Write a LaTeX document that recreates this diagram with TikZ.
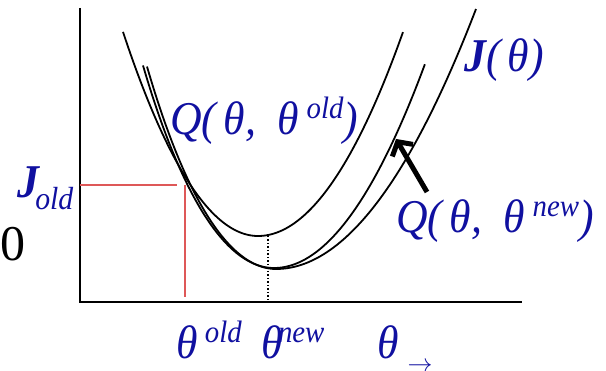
\documentclass[tikz,border=0pt]{standalone}
\usepackage{fontspec}
\setmainfont{Liberation Serif}
\usetikzlibrary{arrows.meta}
\definecolor{txtblue}{RGB}{16,16,160}
\definecolor{redln}{RGB}{222,88,88}
\newcommand{\supx}[1]{\raisebox{16pt}{\fontsize{31}{31}\selectfont #1}}
\newcommand{\subx}[1]{\raisebox{-12pt}{\fontsize{32}{32}\selectfont #1}}
\newcommand{\nrw}[1]{\scalebox{0.93}[1]{#1}}
\begin{document}
\begin{tikzpicture}[x=1pt,y=-1pt,
  lbl/.style={anchor=base west, inner sep=0pt, text=txtblue, font=\fontsize{47}{50}\selectfont\itshape},
  curve/.style={line width=1.8pt, draw=black},
  axisln/.style={line width=2.5pt, draw=black},
  guide/.style={line width=2pt, draw=redln},
  pointer/.style={line width=5pt, -{Straight Barb[length=10pt,width=24pt]}}]
\useasboundingbox (0,0) rectangle (606,371);
% axes
\coordinate (ytop) at (80,8);
\coordinate (orig) at (80,302);
\coordinate (xend) at (522,302);
\draw[axisln] (ytop) -- (orig) -- (xend);
% red guides
\coordinate (hl) at (80,185);
\coordinate (hr) at (177,185);
\coordinate (vt) at (185,185);
\coordinate (vb) at (185,297);
\draw[guide] (hl) -- (hr);
\draw[guide] (vt) -- (vb);
% dotted
\coordinate (dtop) at (268,236);
\coordinate (dbot) at (268,302);
\draw[line width=1.5pt, dotted] (dtop) -- (dbot);
% curves
\draw[curve] plot[domain=-1.35:1.45, samples=140, smooth] ({258+100*\x}, {(\x<0) ? (236-112*\x*\x) : (236-97*\x*\x)});
\draw[curve] plot[domain=-1.29:2.0, samples=160, smooth] ({276+100*\x}, {(\x<0) ? (269-110*\x*\x-7*\x*\x*\x*\x) : (269-65*\x*\x)});
\draw[curve] plot[domain=-1.31:1.51, samples=140, smooth] ({274+100*\x}, {(\x<0) ? (268-106*\x*\x-7*\x*\x*\x*\x) : (268-89.5*\x*\x)});
% arrow
\coordinate (atail) at (427,192);
\coordinate (atip) at (396,139);
\draw[pointer] (atail) -- (atip);
% labels
\node[lbl] (jold) at (17,198) {\nrw{{\bfseries J}\kern-4pt\subx{old}}};
\node[anchor=base west, inner sep=0pt, font=\fontsize{50}{52}\selectfont] (zero) at (0,261) {0};
\node[lbl] (qold) at (170,135) {\nrw{Q(\,θ,\ \ θ\,\supx{old})}};
\node[lbl] (jth) at (464,72) {\nrw{{\bfseries J}(\,θ)}};
\node[lbl] (qnew) at (396,233) {\nrw{Q(\,θ,\ \ θ\,\supx{new})}};
\node[lbl] (thold) at (176,359) {\nrw{θ\,\supx{old}}};
\node[lbl] (thnew) at (261,359) {\nrw{θ\kern-5pt\supx{new}}};
\node[lbl] (th) at (377,359) {\nrw{θ}\hspace{9pt}\raisebox{-13pt}{\fontsize{34}{34}\selectfont$\rightarrow$}};
\end{tikzpicture}
\end{document}
